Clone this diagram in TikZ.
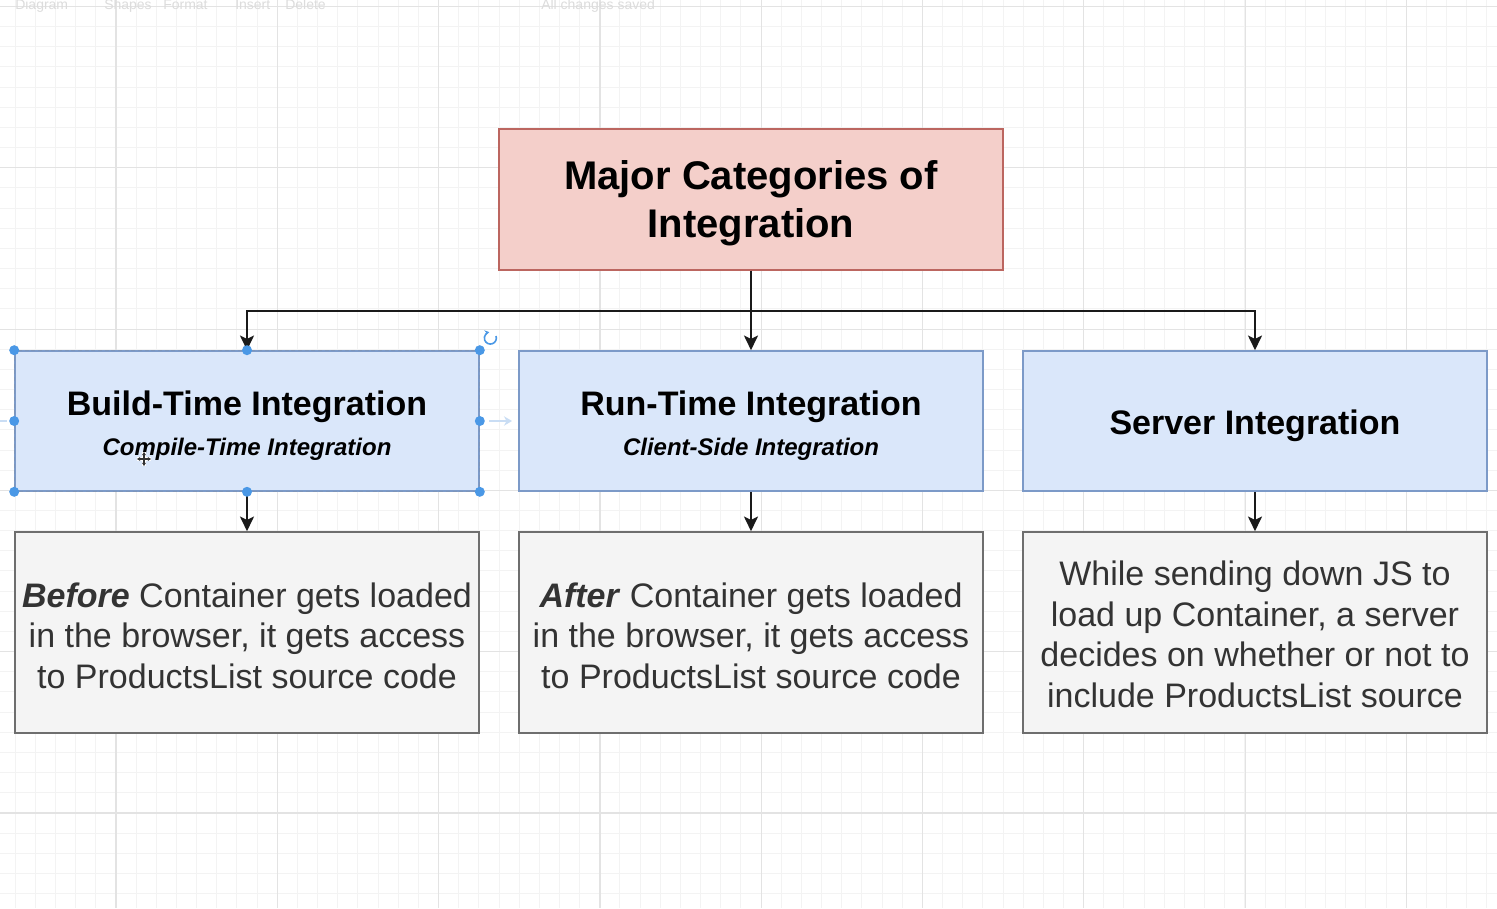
\documentclass[tikz,border=0pt]{standalone}
\usepackage{fontspec}
\setmainfont{Liberation Sans}
\usetikzlibrary{arrows.meta,calc}
\definecolor{gridminor}{HTML}{F3F3F3}
\definecolor{gridmajor}{HTML}{E3E3E3}
\definecolor{pinkfill}{HTML}{F4CFCA}
\definecolor{pinkline}{HTML}{BC6660}
\definecolor{bluefill}{HTML}{DAE7FA}
\definecolor{blueline}{HTML}{7C9AC8}
\definecolor{grayfill}{HTML}{F4F4F4}
\definecolor{grayline}{HTML}{6E6E6E}
\definecolor{textgray}{HTML}{333333}
\definecolor{edgecol}{HTML}{1A1A1A}
\definecolor{selblue}{HTML}{4A98E6}
\definecolor{hoverblue}{HTML}{C9DDF4}
\definecolor{tbgray}{HTML}{DCDCDC}
\newcommand\fsTitle{\fontsize{30}{36}\selectfont\bfseries}
\newcommand\fsSubHead{\fontsize{18}{30}\selectfont\bfseries\itshape}
\begin{document}
\begin{tikzpicture}[x=0.75pt,y=-0.75pt,
  gridminorline/.style={gridminor,line width=0.75pt},
  gridmajorline/.style={gridmajor,line width=0.9pt},
  titlebox/.style={draw=pinkline,fill=pinkfill,line width=1.2pt,minimum width=378pt,minimum height=105.75pt,inner sep=0pt},
  titletext/.style={align=center,font=\fsTitle,text=black,inner sep=0pt},
  catbox/.style={draw=blueline,fill=bluefill,line width=1.2pt,minimum width=348pt,minimum height=105pt,inner sep=0pt},
  cattext/.style={align=center,font=\fontsize{25.5}{30}\selectfont\bfseries,text=black,inner sep=0pt},
  descbox/.style={draw=grayline,fill=grayfill,line width=1.2pt,minimum width=348pt,minimum height=150.75pt,inner sep=0pt},
  desctext/.style={align=center,font=\fontsize{25.5}{30.4}\selectfont,text=textgray,inner sep=0pt},
  edge/.style={draw=edgecol,line width=1.5pt,-{Stealth[length=11pt,width=10.5pt,inset=2.5pt]}},
  handle/.style={fill=selblue,draw=none},
  tbtext/.style={text=tbgray,font=\fontsize{10.5}{12}\selectfont,anchor=base west,inner sep=0pt}
]
\useasboundingbox (0,0) rectangle (1497,908);
\fill[white] (0,0) rectangle (1497,908);
% grid
\begin{scope}
\clip (0,0) rectangle (1497,908);
\foreach \i in {0,...,76} {
  \draw[gridminorline] ({-45.3+\i*20.16},0) -- ({-45.3+\i*20.16},908);
}
\foreach \i in {0,...,46} {
  \draw[gridminorline] (0,{6.5+\i*20.16}) -- (1497,{6.5+\i*20.16});
}
\foreach \i in {0,...,10} {
  \draw[gridmajorline] ({-45.3+\i*161.3},0) -- ({-45.3+\i*161.3},908);
}
\foreach \i in {0,...,5} {
  \draw[gridmajorline] (0,{6.5+\i*161.3}) -- (1497,{6.5+\i*161.3});
}
\end{scope}
% toolbar
\node[tbtext] (tb1) at (15,9) {Diagram};
\node[tbtext] (tb2) at (104,9) {Shapes};
\node[tbtext] (tb3) at (163,9) {Format};
\node[tbtext] (tb4) at (235,9) {Insert};
\node[tbtext] (tb5) at (285,9) {Delete};
\node[tbtext] (tb6) at (541,9) {All changes saved};
% boxes
\node[titlebox] (top) at (751,199.5) {};
\node[titletext] (toptxt) at ($(top.center)+(0,4)$) {Major Categories of\\Integration};
\node[catbox] (b1) at (247,421) {};
\node[cattext] (b1txt) at ($(b1.center)+(0,5)$) {Build-Time Integration\\{\fsSubHead Compile-Time Integration}};
\node[catbox] (b2) at (751,421) {};
\node[cattext] (b2txt) at ($(b2.center)+(0,5)$) {Run-Time Integration\\{\fsSubHead Client-Side Integration}};
\node[catbox] (b3) at (1255,421) {};
\node[cattext] (b3txt) at ($(b3.center)+(0,5)$) {Server Integration};
\node[descbox] (g1) at (247,632.5) {};
\node[desctext] (g1txt) at ($(g1.center)+(0,3)$) {\textbf{\textit{Before}} Container gets loaded\\in the browser, it gets access\\to ProductsList source code};
\node[descbox] (g2) at (751,632.5) {};
\node[desctext] (g2txt) at ($(g2.center)+(0,3)$) {\textbf{\textit{After}} Container gets loaded\\in the browser, it gets access\\to ProductsList source code};
\node[descbox] (g3) at (1255,632.5) {};
\node[desctext] (g3txt) at ($(g3.center)+(0,2)$) {While sending down JS to\\load up Container, a server\\decides on whether or not to\\include ProductsList source};
% selection of b1
\draw[draw=blueline!80!gray,line width=0.8pt,dash pattern=on 3pt off 2pt] (b1.north west) rectangle (b1.south east);
% connectors
\draw[edge] (top.south) -- ++(0,40) -| (b1.north);
\draw[edge] (top.south) -- (b2.north);
\draw[edge] (top.south) -- ++(0,40) -| (b3.north);
\draw[edge] (b1.south) -- (g1.north);
\draw[edge] (b2.south) -- (g2.north);
\draw[edge] (b3.south) -- (g3.north);
% handles
\foreach \a in {north west,north,north east,west,east,south west,south,south east} {
  \fill[handle] (b1.\a) circle[radius=5];
}
\draw[selblue,line width=1.2pt,-{Stealth[length=3.5pt,width=4pt]}] (496,336) arc[start angle=-20,end angle=260,radius=6];
\draw[hoverblue,line width=2pt,-{Stealth[length=6pt,width=7pt]}] (489,421) -- (512,421);
\draw[hoverblue,line width=2pt] (0,421) -- (7,421);
% cursor
\coordinate (cur) at (144,459);
\draw[white,line width=2.6pt] ($(cur)+(-7,0)$) -- ($(cur)+(7,0)$) ($(cur)+(0,-7)$) -- ($(cur)+(0,7)$);
\draw[textgray,line width=1.2pt,{Stealth[length=2.5pt,width=3pt]}-{Stealth[length=2.5pt,width=3pt]}] ($(cur)+(-7,0)$) -- ($(cur)+(7,0)$);
\draw[textgray,line width=1.2pt,{Stealth[length=2.5pt,width=3pt]}-{Stealth[length=2.5pt,width=3pt]}] ($(cur)+(0,-7)$) -- ($(cur)+(0,7)$);
\end{tikzpicture}
\end{document}
